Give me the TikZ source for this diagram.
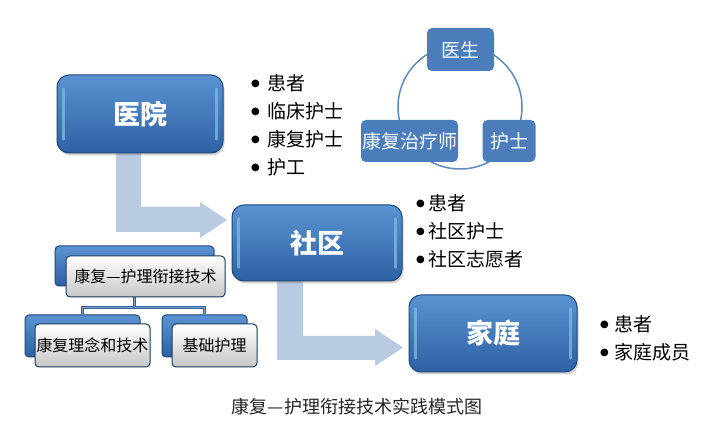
\documentclass[tikz,border=0pt]{standalone}
\usepackage{fontspec}
\setmainfont{Noto Sans CJK SC}
\newfontfamily\dejavu{DejaVu Sans}
\usetikzlibrary{calc,shadows}
\definecolor{boxtop}{HTML}{5A93D2}
\definecolor{boxbot}{HTML}{2C61A3}
\definecolor{boxline}{HTML}{1E4878}
\definecolor{cyc}{HTML}{4A7DBA}
\definecolor{cycline}{HTML}{6088BE}
\definecolor{arrowc}{HTML}{B8CBE3}
\definecolor{conn}{HTML}{2F5F96}
\newcommand\bul[1]{\makebox[#1][l]{\raisebox{0.2em}{\dejavu\fontsize{10}{10}\selectfont ●}}}
\newcommand\glossy[1]{%
  \draw[white!55!cyan!60!boxtop, line width=2.2pt, opacity=0.75, line cap=round]
    ($(#1.north west)+(7,14)$) -- ($(#1.south west)+(7,-14)$);
  \draw[white!55!cyan!60!boxtop, line width=2.2pt, opacity=0.75, line cap=round]
    ($(#1.north east)+(-7,14)$) -- ($(#1.south east)+(-7,-14)$);}
\tikzset{
  mainbox/.style={rounded corners=12pt, draw=boxline, line width=1pt,
    top color=boxtop, bottom color=boxbot, text=white,
    font=\fontsize{27}{27}\selectfont\bfseries, inner sep=0pt,
    drop shadow={shadow xshift=1.5pt, shadow yshift=-2.5pt, opacity=0.35}},
  cycbox/.style={rounded corners=5pt, fill=cyc, text=white,
    font=\fontsize{19}{19}\selectfont, inner sep=0pt},
  backbox/.style={rounded corners=4pt, draw=boxline, line width=1pt,
    top color=boxtop, bottom color=boxbot, inner sep=0pt},
  frontbox/.style={rounded corners=4pt, draw=boxline!80!black, line width=1pt,
    top color=white, bottom color=black!22, text=black,
    font=\fontsize{16}{16}\selectfont, inner sep=0pt},
  item/.style={anchor=west, inner sep=0pt, text=black, font=\fontsize{19}{19}\selectfont},
  blockarrow/.style={fill=arrowc, draw=none},
  connline/.style={draw=conn, line width=1pt, double=cyc!70!white, double distance=1.6pt}
}
\begin{document}
\begin{tikzpicture}[x=1pt, y=-1pt]
\useasboundingbox[fill=white] (0,0) rectangle (716,430);

% block arrows
\fill[blockarrow] (116,150) -- (141,150) -- (141,207) -- (200,207) -- (200,202)
  -- (227,220) -- (200,238) -- (200,232) -- (116,232) -- cycle;
\fill[blockarrow] (277,278) -- (303,278) -- (303,336) -- (375,336) -- (375,329)
  -- (403,347.5) -- (375,366) -- (375,360) -- (277,360) -- cycle;

% main boxes
\node[mainbox, minimum width=166pt, minimum height=78pt] (hosp) at (140,114) {医院};
\node[mainbox, minimum width=170pt, minimum height=76pt] (comm) at (317,243) {社区};
\node[mainbox, minimum width=168pt, minimum height=77pt] (home) at (493,333.5) {家庭};
\glossy{hosp}
\glossy{comm}
\glossy{home}

% bullet lists
\foreach \t [count=\i] in {患者,临床护士,康复护士,护工}
  \node[item] (hl\i) at (251,{83+28*(\i-1)}) {\bul{16pt}\t};
\foreach \t [count=\i] in {患者,社区护士,社区志愿者}
  \node[item] (cl\i) at (416,{203+28*(\i-1)}) {\bul{12pt}\t};
\foreach \t [count=\i] in {患者,家庭成员}
  \node[item] (fl\i) at (600,{324+28*(\i-1)}) {\bul{14pt}\t};

% cycle
\draw[cycline, line width=1.5pt] (460,107) circle (62);
\node[cycbox, minimum width=67pt, minimum height=43pt] (doc) at (460.5,49.5) {医生};
\node[cycbox, minimum width=53pt, minimum height=42pt] (nurse) at (509,141) {护士};
\node[cycbox, minimum width=97pt, minimum height=42pt] (ther) at (409.5,141) {康复治疗师};

% hierarchy
\node[backbox, minimum width=159pt, minimum height=40pt] (techb) at (134.5,266) {};
\node[backbox, minimum width=115pt, minimum height=42pt] (c1b) at (82.5,336) {};
\node[backbox, minimum width=85pt, minimum height=42pt] (c2b) at (204.5,336) {};
\draw[connline] (techb.south) -- ++(0,21) -| (c1b.north);
\draw[connline] (techb.south) -- ++(0,21) -| (c2b.north);
\node[frontbox, minimum width=159pt, minimum height=41pt] (tech) at (145.5,276.5) {康复—护理衔接技术};
\node[frontbox, minimum width=115pt, minimum height=43pt] (c1) at (92.5,345.5) {康复理念和技术};
\node[frontbox, minimum width=85pt, minimum height=43pt] (c2) at (214.5,345.5) {基础护理};

% caption
\node[inner sep=0pt, text=black!85, font=\fontsize{18}{18}\selectfont] (cap) at (357,407) {康复—护理衔接技术实践模式图};
\end{tikzpicture}
\end{document}
